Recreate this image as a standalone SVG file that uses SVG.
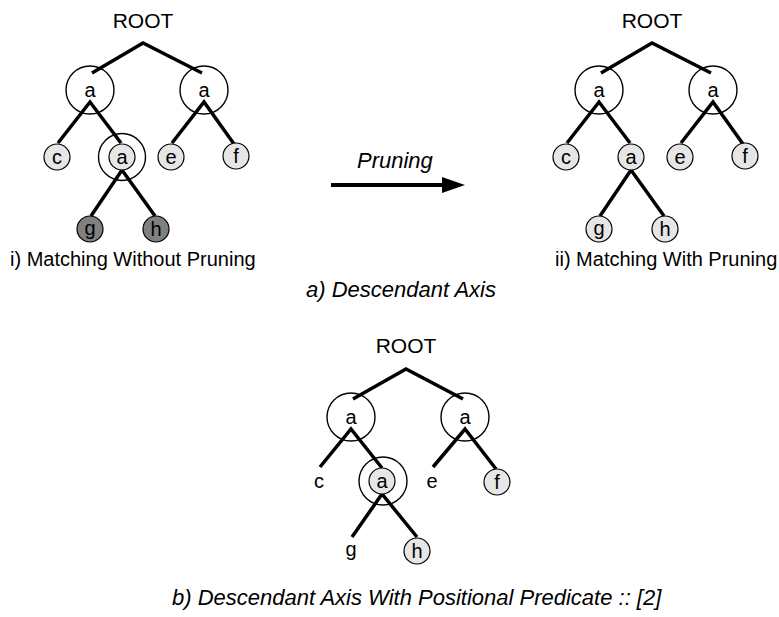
<svg xmlns="http://www.w3.org/2000/svg" width="779" height="617" viewBox="0 0 779 617">
  <style>
    text { font-family: "Liberation Sans", Arial, sans-serif; fill: #000; }
    .root { font-size: 21px; text-anchor: middle; }
    .lbl { font-size: 20px; text-anchor: middle; }
    .cap { font-size: 20px; }
    .ital { font-size: 22px; font-style: italic; }
    .edge { stroke: #000; stroke-width: 3.5; stroke-linecap: butt; fill: none; }
    .ring { fill: none; stroke: #000; stroke-width: 1.4; }
    .leaf { fill: #e6e6e6; stroke: #000; stroke-width: 1.2; }
    .dark { fill: #808080; stroke: #000; stroke-width: 1.2; }
  </style>
  <defs>
    <marker id="head" viewBox="0 0 10 10" refX="0" refY="5" markerWidth="5.75" markerHeight="4" markerUnits="strokeWidth" orient="auto">
      <path d="M0,0 L10,5 L0,10 Z" fill="#000"/>
    </marker>
  </defs>

  <!-- i) matching without pruning -->
  <g id="tree-i">
    <g id="i-edges">
      <path class="edge" d="M92,73 L143,43 L202,73"/>
      <path class="edge" d="M58,143 L90,102 L121,143"/>
      <path class="edge" d="M172,143 L204,102 L234,144"/>
      <path class="edge" d="M91,216 L122,170 L155,216"/>
    </g>
    <g id="i-root"><text class="root" x="143" y="28">ROOT</text></g>
    <g id="i-a1"><circle class="ring" cx="90" cy="90" r="24"/><text class="lbl" x="90" y="97">a</text></g>
    <g id="i-a2"><circle class="ring" cx="204" cy="90" r="24"/><text class="lbl" x="204" y="97">a</text></g>
    <g id="i-c"><ellipse class="leaf" cx="57" cy="157" rx="13" ry="13"/><text class="lbl" x="57" y="164">c</text></g>
    <g id="i-a3"><circle class="ring" cx="122" cy="157" r="23.5"/><ellipse class="leaf" cx="122" cy="157" rx="13" ry="13"/><text class="lbl" x="122" y="164">a</text></g>
    <g id="i-e"><ellipse class="leaf" cx="171" cy="157" rx="13" ry="13"/><text class="lbl" x="171" y="164">e</text></g>
    <g id="i-f"><ellipse class="leaf" cx="236" cy="156" rx="13" ry="13"/><text class="lbl" x="236" y="163">f</text></g>
    <g id="i-g"><ellipse class="dark" cx="90" cy="229" rx="13" ry="13"/><text class="lbl" x="90" y="235">g</text></g>
    <g id="i-h"><ellipse class="dark" cx="156" cy="229" rx="13" ry="13"/><text class="lbl" x="156" y="236">h</text></g>
    <text class="cap" x="10" y="266">i) Matching Without Pruning</text>
  </g>

  <!-- pruning arrow -->
  <g id="arrow">
    <line class="edge" x1="331" y1="185" x2="443" y2="185" style="stroke-width:4"/>
    <polygon points="442,177 465,185 442,193" fill="#000"/>
    <text class="ital" x="357" y="168">Pruning</text>
  </g>

  <!-- ii) matching with pruning -->
  <g id="tree-ii">
    <g id="ii-edges">
      <path class="edge" d="M601,73 L652,43 L711,73"/>
      <path class="edge" d="M567,143 L599,102 L630,143"/>
      <path class="edge" d="M681,143 L713,102 L743,144"/>
      <path class="edge" d="M600,216 L631,170 L664,216"/>
    </g>
    <g id="ii-root"><text class="root" x="652" y="28">ROOT</text></g>
    <g id="ii-a1"><circle class="ring" cx="599" cy="90" r="24"/><text class="lbl" x="599" y="97">a</text></g>
    <g id="ii-a2"><circle class="ring" cx="713" cy="90" r="24"/><text class="lbl" x="713" y="97">a</text></g>
    <g id="ii-c"><ellipse class="leaf" cx="566" cy="157" rx="13" ry="13"/><text class="lbl" x="566" y="164">c</text></g>
    <g id="ii-a3"><ellipse class="leaf" cx="631" cy="157" rx="13" ry="13"/><text class="lbl" x="631" y="164">a</text></g>
    <g id="ii-e"><ellipse class="leaf" cx="680" cy="157" rx="13" ry="13"/><text class="lbl" x="680" y="164">e</text></g>
    <g id="ii-f"><ellipse class="leaf" cx="745" cy="156" rx="13" ry="13"/><text class="lbl" x="745" y="163">f</text></g>
    <g id="ii-g"><ellipse class="leaf" cx="599" cy="229" rx="13" ry="13"/><text class="lbl" x="599" y="235">g</text></g>
    <g id="ii-h"><ellipse class="leaf" cx="665" cy="229" rx="13" ry="13"/><text class="lbl" x="665" y="236">h</text></g>
    <text class="cap" x="555" y="266">ii) Matching With Pruning</text>
  </g>

  <text class="ital" x="306" y="297">a) Descendant Axis</text>

  <!-- b) descendant axis with positional predicate -->
  <g id="tree-b">
    <g id="b-edges">
      <path class="edge" d="M353,399 L406,369 L463,399"/>
      <path class="edge" d="M320,467 L351,429 L382,468"/>
      <path class="edge" d="M433,467 L465,429 L496,469"/>
      <path class="edge" d="M352,537 L382,494 L417,537"/>
    </g>
    <g id="b-root"><text class="root" x="406" y="353">ROOT</text></g>
    <g id="b-a1"><circle class="ring" cx="351" cy="417" r="24"/><text class="lbl" x="351" y="424">a</text></g>
    <g id="b-a2"><circle class="ring" cx="465" cy="417" r="24"/><text class="lbl" x="465" y="424">a</text></g>
    <g id="b-c"><text class="lbl" x="319" y="488">c</text></g>
    <g id="b-a3"><circle class="ring" cx="383" cy="481" r="24"/><ellipse class="leaf" cx="382" cy="481" rx="13" ry="13"/><text class="lbl" x="382" y="488">a</text></g>
    <g id="b-e"><text class="lbl" x="432" y="488">e</text></g>
    <g id="b-f"><ellipse class="leaf" cx="497" cy="482" rx="13" ry="13"/><text class="lbl" x="497" y="489">f</text></g>
    <g id="b-g"><text class="lbl" x="351" y="556">g</text></g>
    <g id="b-h"><ellipse class="leaf" cx="417" cy="551" rx="13" ry="13"/><text class="lbl" x="417" y="558">h</text></g>
  </g>

  <text class="ital" x="172" y="605">b) Descendant Axis With Positional Predicate :: [2]</text>
</svg>
